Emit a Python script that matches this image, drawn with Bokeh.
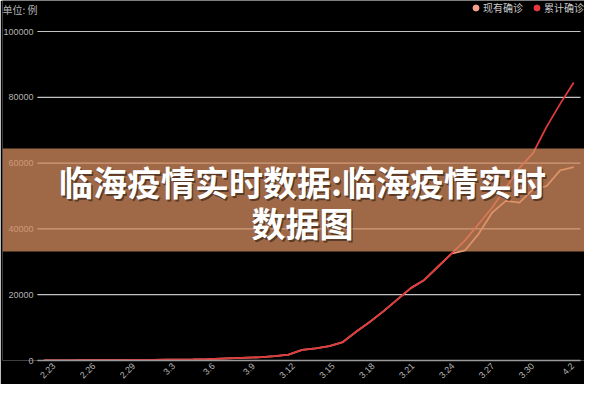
import numpy as np
from bokeh.plotting import figure
from bokeh.models import (Range1d, FixedTicker, BasicTickFormatter, Label,
                          BoxAnnotation, Legend, LegendItem)
from bokeh.embed import file_html
from bokeh.resources import INLINE

# ---------------- data ----------------
dates = ["2.23", "2.24", "2.25", "2.26", "2.27", "2.28", "2.29",
         "3.1", "3.2", "3.3", "3.4", "3.5", "3.6", "3.7", "3.8", "3.9", "3.10",
         "3.11", "3.12", "3.13", "3.14", "3.15", "3.16", "3.17", "3.18", "3.19",
         "3.20", "3.21", "3.22", "3.23", "3.24", "3.25", "3.26", "3.27", "3.28",
         "3.29", "3.30", "3.31", "4.1", "4.2"]

cumulative = [20, 40, 60, 80, 100, 130, 150, 180, 200, 230, 260, 300, 400, 550,
              700, 850, 1000, 1300, 1800, 3200, 3700, 4400, 5600, 8800, 11800,
              15000, 18500, 22000, 24500, 28500, 32500, 36500, 41500, 46500,
              52500, 58500, 63000, 71000, 78000, 84500]

current = [20, 40, 60, 80, 100, 130, 150, 180, 200, 230, 260, 300, 400, 550,
           700, 850, 1000, 1300, 1800, 3200, 3700, 4400, 5600, 8800, 11800,
           15000, 18500, 22000, 24500, 28500, 32500, 33500, 38500, 45000,
           48500, 48000, 52000, 53000, 57800, 58800]

tick_labels = ["2.23", "2.26", "2.29", "3.3", "3.6", "3.9", "3.12", "3.15",
               "3.18", "3.21", "3.24", "3.27", "3.30", "4.2"]
y_ticks = [0, 20000, 40000, 60000, 80000, 100000]

series_names = ["现有确诊", "累计确诊"]
series_colors = ["#f29a7c", "#e0393b"]
unit_text = "单位: 例"
title_lines = ["临海疫情实时数据:临海疫情实时", "数据图"]

# ---------------- figure ----------------
W, H = 584, 384
FB = 360                    # frame bottom (canvas px); frame spans full width/top
PLOT_L, PLOT_T = 35, 31     # where the category band starts / 100000 gridline
n = len(dates)
band_px = 13.625            # pixel width of one category band
x0 = -0.5 - PLOT_L / band_px
x1 = -0.5 + (W - PLOT_L) / band_px
y_top = 100000 * FB / (FB - PLOT_T)

p = figure(width=W, height=H, output_backend="svg", toolbar_location=None,
           x_range=Range1d(x0, x1), y_range=Range1d(0, y_top),
           min_border_left=0, min_border_right=0, min_border_top=0,
           min_border_bottom=H - FB,
           background_fill_color="#000000", border_fill_color="#000000",
           outline_line_alpha=0)

xs = list(range(n))

# horizontal gridlines spanning the category axis
p.segment(x0=[-0.5] * len(y_ticks), x1=[n - 0.5] * len(y_ticks),
          y0=y_ticks, y1=y_ticks, line_color="#c4c4c4", line_width=1.2)
p.xgrid.visible = False
p.ygrid.visible = False

# lines
p.line(x=xs, y=current, line_color=series_colors[0], line_width=1.8)
p.line(x=xs, y=cumulative, line_color=series_colors[1], line_width=1.8)

# x axis
xt = [float(v) for v in np.round(np.linspace(0.72, 38.92, len(tick_labels)), 4)]
p.xaxis.ticker = FixedTicker(ticks=xt)
p.xaxis.major_label_overrides = {t: lab for t, lab in zip(xt, tick_labels)}
p.xaxis.bounds = (-0.5, n - 0.5)
p.xaxis.major_label_orientation = float(np.pi / 4)
p.xaxis.axis_line_color = "#9a9a9a"
p.xaxis.axis_line_width = 1.5
p.xaxis.major_tick_out = 0
p.xaxis.major_tick_in = 0
p.xaxis.minor_tick_out = 0
p.xaxis.minor_tick_in = 0
p.xaxis.major_label_standoff = 4
p.xaxis.major_label_text_color = "#b4b4b4"
p.xaxis.major_label_text_font = "Liberation Sans"
p.xaxis.major_label_text_font_size = "9px"

# y axis (labels sit left of the category band, inside the canvas)
p.yaxis.ticker = FixedTicker(ticks=y_ticks)
p.yaxis.formatter = BasicTickFormatter(use_scientific=False)
p.yaxis.axis_line_alpha = 0
p.yaxis.major_tick_out = 0
p.yaxis.major_tick_in = 0
p.yaxis.minor_tick_out = 0
p.yaxis.minor_tick_in = 0
p.yaxis.major_label_standoff = -31
p.yaxis.major_label_text_color = "#b4b4b4"
p.yaxis.major_label_text_font = "Liberation Sans"
p.yaxis.major_label_text_font_size = "9px"

# legend (dot markers; NaN points are never drawn in the plot itself)
d_cur = p.scatter(x=[np.nan], y=[np.nan], marker="circle", size=6,
                  fill_color="#f6a08c", line_color="#f6a08c")
d_cum = p.scatter(x=[np.nan], y=[np.nan], marker="circle", size=6,
                  fill_color="#e8383d", line_color="#e8383d")
legend = Legend(items=[LegendItem(label=series_names[0], renderers=[d_cur]),
                       LegendItem(label=series_names[1], renderers=[d_cum])],
                location=(466, FB - 15), orientation="horizontal",
                glyph_width=15, glyph_height=15, label_height=15,
                label_standoff=0, spacing=6, padding=0, margin=0,
                border_line_alpha=0, background_fill_alpha=0,
                label_text_color="#cccccc", label_text_font_size="10px",
                label_text_font="Noto Sans CJK SC")
p.add_layout(legend)

# unit label
p.add_layout(Label(x=0, y=FB - 1, x_units="screen", y_units="screen",
                   text=unit_text, text_align="left", text_baseline="top",
                   text_color="#b4b4b4", text_font="Noto Sans CJK SC",
                   text_font_size="10px"))

# overlay band with title
p.add_layout(BoxAnnotation(top=FB - 148, bottom=FB - 251,
                           top_units="screen", bottom_units="screen",
                           fill_color="#d68e60", fill_alpha=0.74, line_alpha=0))
for txt, yy in zip(title_lines, [181, 222]):
    p.add_layout(Label(x=301.5, y=FB - yy - 1.5, x_units="screen",
                       y_units="screen", text=txt, text_align="center",
                       text_baseline="middle", text_color="#2a1a10",
                       text_alpha=0.6, text_font="Noto Sans CJK SC",
                       text_font_size="34px", text_font_style="bold"))
    p.add_layout(Label(x=300, y=FB - yy, x_units="screen", y_units="screen",
                       text=txt, text_align="center", text_baseline="middle",
                       text_color="#ffffff", text_font="Noto Sans CJK SC",
                       text_font_size="34px", text_font_style="bold"))

open("out.html", "w").write(file_html(p, INLINE))
